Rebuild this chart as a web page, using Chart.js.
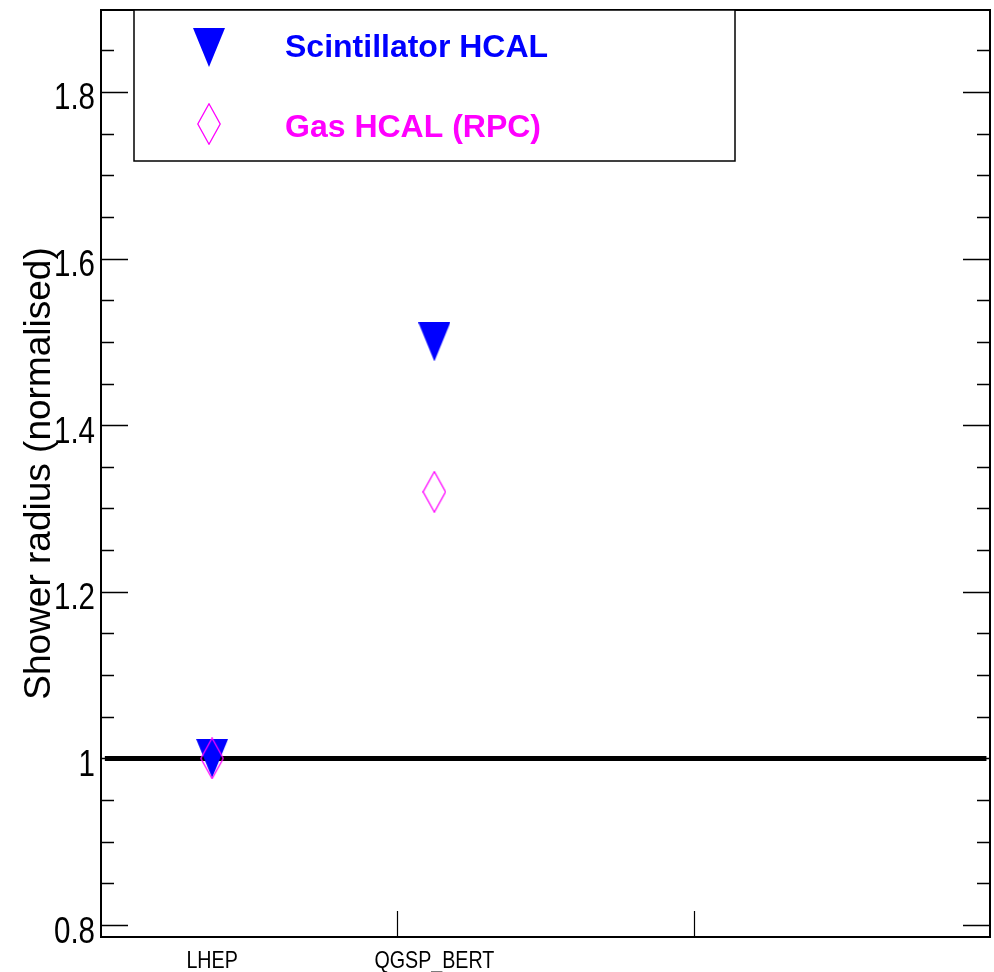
<!DOCTYPE html>
<html>
<head>
<meta charset="utf-8">
<title>Shower radius (normalised)</title>
<script src="https://cdn.jsdelivr.net/npm/chart.js@4.4.0/dist/chart.umd.min.js"></script>
<style>
  html, body { margin: 0; padding: 0; background: #ffffff; }
  canvas { display: block; }
</style>
</head>
<body>
<canvas id="chart" width="994" height="972"></canvas>
<script>
// Physics lists on the horizontal axis and where each one sits
const models = ['LHEP', 'QGSP_BERT'];
const modelX = [0.375, 1.125];

// Normalised shower radius per physics list
const scintRadius = [1.0, 1.5];
const gasRadius = [1.0, 1.32];

// Axis ticks
const yTickValues = [0.8, 1.0, 1.2, 1.4, 1.6, 1.8];
const yTickLabels = ['0.8', '1', '1.2', '1.4', '1.6', '1.8'];
const xDividers = [1, 2];

// Reference level drawn across the frame
const referenceLevel = 1.0;
const referenceSpan = [0.013, 2.988];

// Series names and colours
const seriesNames = ['Scintillator HCAL', 'Gas HCAL (RPC)'];
const seriesColors = ['#0000ff', '#ff00ff'];

const plainFont = "'Liberation Sans', Arial, Helvetica, sans-serif";
// tick labels use a tall, narrow rendering of the plain face
const tickSqueeze = 0.82;

// Marker sprites (filled down-triangle, open diamond)
function triangleDown(w, h, color) {
  const c = document.createElement('canvas');
  c.width = w; c.height = h;
  const g = c.getContext('2d');
  g.fillStyle = color;
  g.beginPath();
  g.moveTo(0, 0);
  g.lineTo(w, 0);
  g.lineTo(w / 2, h);
  g.closePath();
  g.fill();
  return c;
}
function diamondOpen(w, h, color) {
  const c = document.createElement('canvas');
  c.width = w; c.height = h;
  const g = c.getContext('2d');
  g.strokeStyle = color;
  g.lineWidth = 1.3;
  const m = 0.8;
  g.beginPath();
  g.moveTo(w / 2, m);
  g.lineTo(w - m, h / 2);
  g.lineTo(w / 2, h - m);
  g.lineTo(m, h / 2);
  g.closePath();
  g.stroke();
  return c;
}
const scintMarker = triangleDown(32, 39, seriesColors[0]);
const gasMarker = diamondOpen(24, 42, seriesColors[1]);

const toPoints = (xs, ys) => xs.map((x, i) => ({ x: x, y: ys[i] }));

// Frame: top/right borders and inward-pointing ticks
const framePlugin = {
  id: 'frame',
  afterDatasetsDraw(chart) {
    const { ctx, chartArea: a, scales } = chart;
    const y = scales.y, x = scales.x;
    ctx.save();
    ctx.strokeStyle = '#000';
    ctx.lineWidth = 2;
    ctx.beginPath();
    ctx.moveTo(a.left, a.top);
    ctx.lineTo(a.right, a.top);
    ctx.lineTo(a.right, a.bottom);
    ctx.stroke();

    ctx.lineWidth = 1.5;
    const majorLen = 27, minorLen = 13;
    const step = 0.05;
    const start = Math.ceil(y.min / step - 1e-6);
    const end = Math.floor(y.max / step + 1e-6);
    ctx.beginPath();
    for (let k = start; k <= end; k++) {
      const v = k * step;
      const isMajor = yTickValues.some(t => Math.abs(t - v) < 1e-6);
      const len = isMajor ? majorLen : minorLen;
      const py = Math.round(y.getPixelForValue(v)) + 0.5;
      ctx.moveTo(a.left, py);
      ctx.lineTo(a.left + len, py);
      ctx.moveTo(a.right, py);
      ctx.lineTo(a.right - len, py);
    }
    ctx.stroke();

    ctx.lineWidth = 1.2;
    ctx.beginPath();
    xDividers.forEach(v => {
      const px = Math.round(x.getPixelForValue(v)) + 0.5;
      ctx.moveTo(px, a.bottom);
      ctx.lineTo(px, a.bottom - 26);
    });
    ctx.stroke();
    ctx.restore();
  }
};

// Tick labels from the scales' own ticks, rendered tall and narrow
const tickLabelPlugin = {
  id: 'tickLabels',
  afterDraw(chart) {
    const { ctx, chartArea: a, scales } = chart;
    ctx.save();
    ctx.fillStyle = '#000';
    ctx.textBaseline = 'alphabetic';

    ctx.font = '36px ' + plainFont;
    ctx.textAlign = 'right';
    scales.y.ticks.forEach(t => {
      const py = scales.y.getPixelForValue(t.value);
      ctx.save();
      ctx.translate(a.left - 6, py + 17.5);
      ctx.scale(tickSqueeze, 1);
      ctx.fillText(t.label, 0, 0);
      ctx.restore();
    });

    ctx.font = '24px ' + plainFont;
    ctx.textAlign = 'center';
    scales.x.ticks.forEach(t => {
      const px = scales.x.getPixelForValue(t.value);
      ctx.save();
      ctx.translate(px, a.bottom + 31);
      ctx.scale(tickSqueeze, 1);
      ctx.fillText(t.label, 0, 0);
      ctx.restore();
    });
    ctx.restore();
  }
};

// Boxed legend in the upper left of the frame
const boxLegendPlugin = {
  id: 'boxLegend',
  afterDraw(chart) {
    const { ctx, chartArea: a } = chart;
    const entries = chart.data.datasets.filter(d => seriesNames.includes(d.label))
      .sort((p, q) => seriesNames.indexOf(p.label) - seriesNames.indexOf(q.label));
    const box = { left: a.left + 33, top: a.top, right: a.left + 634, bottom: a.top + 151 };
    ctx.save();
    ctx.fillStyle = '#fff';
    ctx.fillRect(box.left, box.top, box.right - box.left, box.bottom - box.top);
    ctx.strokeStyle = '#000';
    ctx.lineWidth = 1.5;
    ctx.strokeRect(box.left, box.top, box.right - box.left, box.bottom - box.top);
    const rows = [37.5, 113.5];
    const textBase = [47, 127];
    ctx.font = 'bold 32px ' + plainFont;
    ctx.textBaseline = 'alphabetic';
    ctx.textAlign = 'left';
    entries.forEach((d, i) => {
      const img = d.pointStyle;
      const cx = a.left + 107.5, cy = a.top + rows[i];
      ctx.drawImage(img, Math.round(cx - img.width / 2), Math.round(cy - img.height / 2));
      ctx.fillStyle = d.borderColor;
      ctx.fillText(d.label, a.left + 184, a.top + textBase[i]);
    });
    ctx.restore();
  }
};

new Chart(document.getElementById('chart'), {
  type: 'scatter',
  data: {
    datasets: [
      {
        label: seriesNames[1],
        data: toPoints(modelX, gasRadius),
        pointStyle: gasMarker,
        pointRadius: 16,
        borderColor: seriesColors[1],
        backgroundColor: seriesColors[1],
        order: 0
      },
      {
        label: seriesNames[0],
        data: toPoints(modelX, scintRadius),
        pointStyle: scintMarker,
        pointRadius: 16,
        borderColor: seriesColors[0],
        backgroundColor: seriesColors[0],
        order: 1
      },
      {
        label: 'reference',
        type: 'line',
        data: referenceSpan.map(x => ({ x: x, y: referenceLevel })),
        borderColor: '#000',
        borderWidth: 5,
        pointRadius: 0,
        fill: false,
        order: 2
      }
    ]
  },
  options: {
    responsive: false,
    animation: false,
    layout: { autoPadding: false, padding: { top: 10, right: 4, left: 0, bottom: 0 } },
    plugins: {
      legend: { display: false },
      tooltip: { enabled: false },
      title: { display: false }
    },
    scales: {
      x: {
        type: 'linear',
        min: 0,
        max: 3,
        grid: { display: false, drawTicks: false },
        border: { display: true, color: '#000', width: 2 },
        afterBuildTicks(s) { s.ticks = modelX.map(v => ({ value: v })); },
        afterFit(s) { s.height = 35; },
        ticks: {
          display: false,
          autoSkip: false,
          callback: (v, i) => models[i]
        }
      },
      y: {
        type: 'linear',
        min: 0.7856,
        max: 1.8984,
        grid: { display: false, drawTicks: false },
        border: { display: true, color: '#000', width: 2 },
        afterBuildTicks(s) { s.ticks = yTickValues.map(v => ({ value: v })); },
        afterFit(s) { s.width = 101; },
        ticks: {
          display: false,
          callback: (v, i) => yTickLabels[i]
        },
        title: {
          display: true,
          text: 'Shower radius (normalised)',
          color: '#000',
          font: { family: plainFont, size: 37 },
          padding: { top: 18, bottom: 0 }
        }
      }
    }
  },
  plugins: [framePlugin, tickLabelPlugin, boxLegendPlugin]
});
</script>
</body>
</html>
